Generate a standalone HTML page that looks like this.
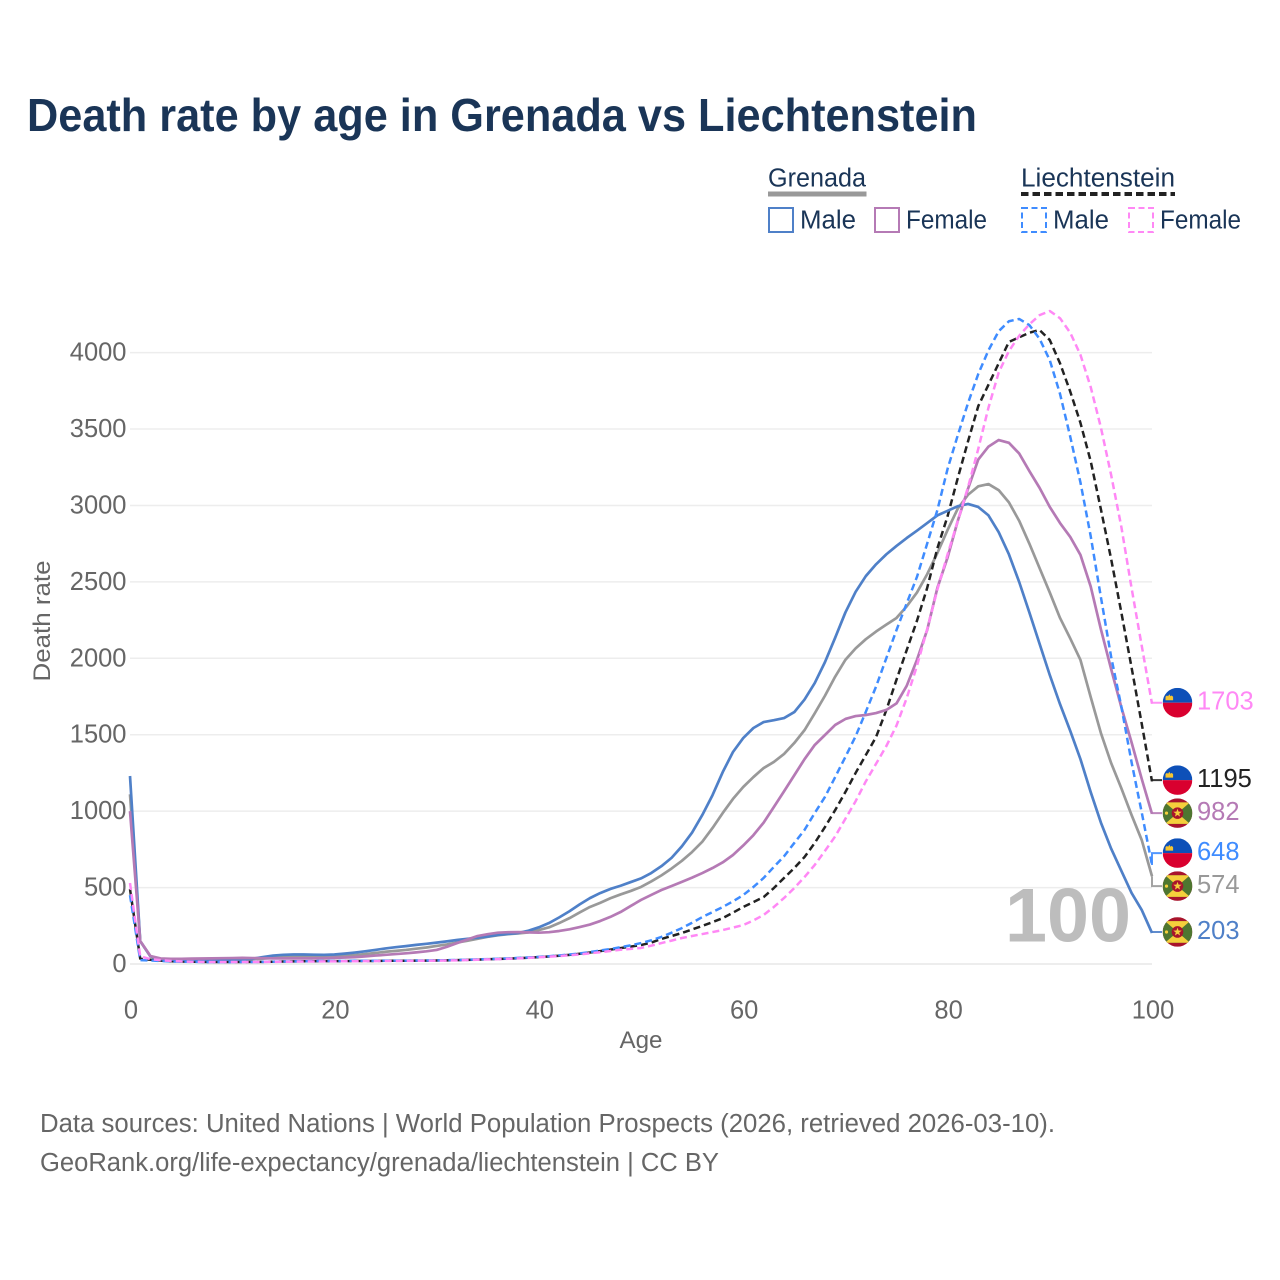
<!DOCTYPE html>
<html lang="en">
<head>
<meta charset="utf-8">
<title>Death rate by age in Grenada vs Liechtenstein</title>
<style>
html,body{margin:0;padding:0;background:#fff}
svg{display:block}
text{font-family:"Liberation Sans",sans-serif}
</style>
</head>
<body>
<svg id="chart" xmlns="http://www.w3.org/2000/svg" width="1280" height="1280" viewBox="0 0 1280 1280">
  <rect width="1280" height="1280" fill="#fff"/>
  <text x="27" y="131" font-size="46" font-weight="700" fill="#1a3557" textLength="950" lengthAdjust="spacingAndGlyphs">Death rate by age in Grenada vs Liechtenstein</text>

  <g font-size="25.5" fill="#1a3557">
    <text x="768" y="186.5" textLength="98" lengthAdjust="spacingAndGlyphs">Grenada</text>
    <rect x="768" y="191.500" width="98.500" height="5" fill="#999"/>
    <text x="1021" y="186.5" textLength="154" lengthAdjust="spacingAndGlyphs">Liechtenstein</text>
    <line x1="1021" y1="194" x2="1175" y2="194" stroke="#222" stroke-width="4" stroke-dasharray="7.500 4"/>

    <rect x="769" y="208" width="24" height="24" fill="none" stroke="#4f80c8" stroke-width="2"/>
    <text x="800" y="228.5" textLength="56" lengthAdjust="spacingAndGlyphs">Male</text>
    <rect x="875" y="208" width="24" height="24" fill="none" stroke="#b57ab5" stroke-width="2"/>
    <text x="906" y="228.5" textLength="81" lengthAdjust="spacingAndGlyphs">Female</text>

    <rect x="1022" y="208" width="24" height="24" fill="none" stroke="#3f8cff" stroke-width="2" stroke-dasharray="6 3.500"/>
    <text x="1053" y="228.5" textLength="56" lengthAdjust="spacingAndGlyphs">Male</text>
    <rect x="1129" y="208" width="24" height="24" fill="none" stroke="#ff88f5" stroke-width="2" stroke-dasharray="6 3.500"/>
    <text x="1160" y="228.5" textLength="81" lengthAdjust="spacingAndGlyphs">Female</text>
  </g>

  <g id="grid"></g>
  <g id="yticks"></g>
  <g id="xticks"></g>

  <text transform="translate(50,621) rotate(-90)" text-anchor="middle" font-size="24" fill="#666" textLength="121" lengthAdjust="spacingAndGlyphs">Death rate</text>
  <text x="641" y="1048" text-anchor="middle" font-size="24" fill="#666" textLength="43" lengthAdjust="spacingAndGlyphs">Age</text>

  <text id="age-indicator" x="1005" y="941.5" font-size="76" font-weight="700" fill="#bdbdbd" textLength="126" lengthAdjust="spacingAndGlyphs">100</text>

  <g id="series"></g>
  <g id="labels"></g>

  <g font-size="25.500" fill="#666">
    <text x="40" y="1132" textLength="1015" lengthAdjust="spacingAndGlyphs">Data sources: United Nations | World Population Prospects (2026, retrieved 2026-03-10).</text>
    <text x="40" y="1171" textLength="679" lengthAdjust="spacingAndGlyphs">GeoRank.org/life-expectancy/grenada/liechtenstein | CC BY</text>
  </g>
</svg>

<script>
const yTickValues = [0, 500, 1000, 1500, 2000, 2500, 3000, 3500, 4000];
const xTickValues = [0, 20, 40, 60, 80, 100];

const grenadaMale = [
  1230,150,50,32,29,28,27,27,28,28,
  29,30,35,45,55,60,62,62,61,60,
  62,68,75,83,92,102,110,117,125,132,
  140,148,157,165,172,180,190,197,203,218,
  240,268,305,345,390,431,464,491,512,536,
  560,595,640,695,770,860,975,1105,1256,1387,
  1478,1544,1583,1595,1609,1648,1730,1838,1975,2135,
  2300,2435,2538,2615,2680,2735,2787,2835,2885,2935,
  2965,2995,3010,2990,2935,2825,2680,2500,2300,2095,
  1890,1700,1525,1340,1125,925,755,610,465,353,203
];
const grenadaBoth = [
  1110,150,50,32,29,28,28,28,29,29,
  30,31,32,35,40,44,46,47,47,47,
  49,53,58,65,72,80,86,92,100,108,
  118,128,140,152,165,178,188,195,200,207,
  222,240,268,300,337,373,400,430,455,478,
  504,540,580,625,675,733,800,890,988,1080,
  1158,1223,1282,1322,1374,1446,1530,1640,1755,1880,
  1990,2065,2125,2175,2220,2264,2340,2430,2550,2689,
  2840,2980,3070,3125,3140,3100,3020,2900,2750,2590,
  2430,2264,2130,1989,1747,1511,1315,1150,975,810,574
];
const grenadaFemale = [
  1000,150,52,36,34,34,35,36,37,38,
  39,40,39,38,37,37,37,37,37,38,
  40,42,45,50,55,60,65,70,76,83,
  92,112,137,160,183,195,205,208,209,207,
  205,208,216,227,242,258,281,308,340,380,
  419,452,484,510,537,565,595,628,665,713,
  775,843,925,1027,1130,1235,1340,1433,1498,1564,
  1603,1622,1629,1642,1662,1705,1820,1990,2185,2460,
  2660,2900,3110,3300,3385,3428,3410,3340,3225,3115,
  2990,2885,2794,2676,2470,2190,1930,1680,1450,1210,982
];
const liechtensteinBoth = [
  490,35,28,22,18,16,15,14,13,13,
  13,13,14,14,15,16,17,18,18,19,
  19,19,20,20,20,21,21,21,22,22,
  23,24,25,27,29,31,33,35,38,41,
  45,49,54,60,67,75,84,94,104,114,
  124,140,164,183,203,226,249,274,300,336,
  373,405,438,497,563,628,700,792,896,1007,
  1125,1250,1367,1485,1660,1860,2054,2245,2460,2720,
  2930,3180,3420,3650,3790,3930,4070,4100,4130,4148,
  4082,3930,3745,3540,3290,2975,2650,2300,1940,1570,1195
];
const liechtensteinMale = [
  450,25,23,20,17,15,14,13,12,12,
  12,13,13,14,15,16,17,18,19,20,
  20,20,21,21,21,22,22,22,23,23,
  24,25,26,28,30,32,34,37,40,43,
  47,51,56,62,69,78,88,98,110,122,
  137,155,177,205,235,270,307,340,373,410,
  451,504,563,635,705,792,877,988,1093,1223,
  1355,1490,1650,1815,2000,2185,2360,2532,2750,2970,
  3240,3460,3670,3860,4015,4140,4205,4220,4180,4090,
  3950,3730,3450,3150,2800,2400,2010,1684,1320,990,648
];
const liechtensteinFemale = [
  530,50,32,25,20,17,15,14,13,13,
  13,13,13,14,14,15,15,16,16,17,
  17,18,18,19,19,20,20,20,21,21,
  22,23,24,26,28,30,32,34,37,40,
  44,48,52,57,63,70,77,85,93,99,
  105,120,137,153,170,183,196,209,222,238,
  255,285,321,373,432,497,569,648,740,835,
  950,1065,1195,1310,1425,1560,1740,1950,2190,2450,
  2680,2900,3120,3370,3640,3870,4010,4110,4185,4245,
  4272,4225,4130,3985,3775,3510,3200,2860,2460,2080,1703
];

const NS = 'http://www.w3.org/2000/svg';
const xScale = age => 130 + age * 10.22;
const yScale = value => 964 - value * 0.15285;

function make(tag, attrs, parent) {
  const node = document.createElementNS(NS, tag);
  for (const key in attrs) node.setAttribute(key, attrs[key]);
  parent.appendChild(node);
  return node;
}

/* gridlines and tick labels */
const gridGroup = document.getElementById('grid');
const yTickGroup = document.getElementById('yticks');
const xTickGroup = document.getElementById('xticks');
yTickValues.forEach(v => {
  const line = make('line', {x1: 130, x2: 1152, y1: yScale(v), y2: yScale(v), stroke: '#ededed', 'stroke-width': v === 0 ? 2 : 1.5}, gridGroup);
  
  
  const label = make('text', {x: 126.5, y: yScale(v) + 8, 'text-anchor': 'end', 'font-size': 25.5, fill: '#666'}, yTickGroup);
  
  
  label.textContent = v;
});
xTickValues.forEach(a => {
  const label = make('text', {x: xScale(a) + 1, y: 1018.5, 'text-anchor': 'middle', 'font-size': 25.5, fill: '#666'}, xTickGroup);
  
  
  label.textContent = a;
});

/* series definitions: drawing order bottom to top */
const seriesList = [
  {key: 'grenada-both', values: grenadaBoth, color: '#999999', dash: '', flag: 'grenada'},
  {key: 'liechtenstein-both', values: liechtensteinBoth, color: '#222222', dash: '7 4', flag: 'liechtenstein'},
  {key: 'grenada-male', values: grenadaMale, color: '#4f80c8', dash: '', flag: 'grenada'},
  {key: 'grenada-female', values: grenadaFemale, color: '#b57ab5', dash: '', flag: 'grenada'},
  {key: 'liechtenstein-male', values: liechtensteinMale, color: '#3f8cff', dash: '7 4', flag: 'liechtenstein'},
  {key: 'liechtenstein-female', values: liechtensteinFemale, color: '#ff88f5', dash: '7 4', flag: 'liechtenstein'}
];

/* end-label layout: push overlapping labels apart */
const MIN_GAP = 33;
const order = seriesList.map(s => ({s, y: yScale(s.values[s.values.length - 1])})).sort((a, b) => a.y - b.y);
for (let pass = 0; pass < 50; pass++) {
  for (let i = 0; i < order.length - 1; i++) {
    const gap = order[i + 1].y - order[i].y;
    if (gap < MIN_GAP) {
      const shift = (MIN_GAP - gap) / 2;
      order[i].y -= shift;
      order[i + 1].y += shift;
    }
  }
}
order.forEach(o => { o.s.labelY = o.y - 1; });

const seriesGroup = document.getElementById('series');
const labelGroup = document.getElementById('labels');

seriesList.forEach(s => {
  const last = s.values.length - 1;
  const pts = s.values.map((v, age) => xScale(age).toFixed(2) + ',' + yScale(v).toFixed(2));
  const attrs = {points: pts.join(' '), fill: 'none', stroke: s.color, 'stroke-width': s.dash ? 2.5 : 2.7, 'stroke-linejoin': 'round'};
  if (s.dash) attrs['stroke-dasharray'] = s.dash;
  const line = make('polyline', attrs, seriesGroup);
  
  

  const endX = xScale(last);
  const connector = make('polyline', {
    points: endX + ',' + yScale(s.values[last]).toFixed(2) + ' ' + endX + ',' + s.labelY.toFixed(2) + ' ' + (endX + 10) + ',' + s.labelY.toFixed(2),
    fill: 'none', stroke: s.color, 'stroke-width': 2, opacity: 0.9
  }, labelGroup);
  
  
});

function starPoints(cx, cy, R, r) {
  const out = [];
  for (let i = 0; i < 10; i++) {
    const rad = i % 2 ? r : R;
    const ang = -Math.PI / 2 + i * Math.PI / 5;
    out.push((cx + rad * Math.cos(ang)).toFixed(2) + ',' + (cy + rad * Math.sin(ang)).toFixed(2));
  }
  return out.join(' ');
}

function drawFlag(kind, cx, cy, idx) {
  const R = 14.8;
  const g = make('g', {}, labelGroup);
  
  
  const clip = make('clipPath', {id: 'flag-clip-' + idx}, g);
  make('circle', {cx: cx, cy: cy, r: R}, clip);
  const body = make('g', {'clip-path': 'url(#flag-clip-' + idx + ')'}, g);
  if (kind === 'liechtenstein') {
    make('rect', {x: cx - R, y: cy - R, width: 2 * R, height: R, fill: '#0e50b8'}, body);
    make('rect', {x: cx - R, y: cy, width: 2 * R, height: R, fill: '#d9002f'}, body);
    make('path', {d: 'M' + (cx - 12) + ' ' + (cy - 2.5) + 'h7.600v-3.500l-1.400 -1.200 -1.200 0.800 -1.200 -2 -1.200 2 -1.200 -0.800 -1.400 1.200z', fill: '#f6c531'}, body);
  } else {
    const t = cy - R, b = cy + R, l = cx - R, r = cx + R;
    make('rect', {x: l, y: t, width: 2 * R, height: 2 * R, fill: '#a8142c'}, body);
    const it = t + 4, ib = b - 4;
    make('polygon', {points: l + ',' + it + ' ' + r + ',' + it + ' ' + r + ',' + ib + ' ' + l + ',' + ib, fill: '#4e7630'}, body);
    make('polygon', {points: (cx - 12.5) + ',' + it + ' ' + (cx + 12.5) + ',' + it + ' ' + cx + ',' + cy, fill: '#f5cf3c'}, body);
    make('polygon', {points: (cx - 12.5) + ',' + ib + ' ' + (cx + 12.5) + ',' + ib + ' ' + cx + ',' + cy, fill: '#f5cf3c'}, body);
    make('circle', {cx: cx, cy: cy, r: 5.8, fill: '#a8142c'}, body);
    make('polygon', {points: starPoints(cx, cy, 4.4, 1.8), fill: '#f5cf3c'}, body);
    make('circle', {cx: cx - 11, cy: cy, r: 1.6, fill: '#f5cf3c'}, body);
  }
}

seriesList.forEach((s, idx) => {
  const endValue = s.values[s.values.length - 1];
  drawFlag(s.flag, 1177.5, s.labelY, idx);
  const label = make('text', {x: 1197, y: s.labelY + 7, 'font-size': 25.5, fill: s.color}, labelGroup);
  
  
  label.textContent = endValue;
});
</script>
</body>
</html>
